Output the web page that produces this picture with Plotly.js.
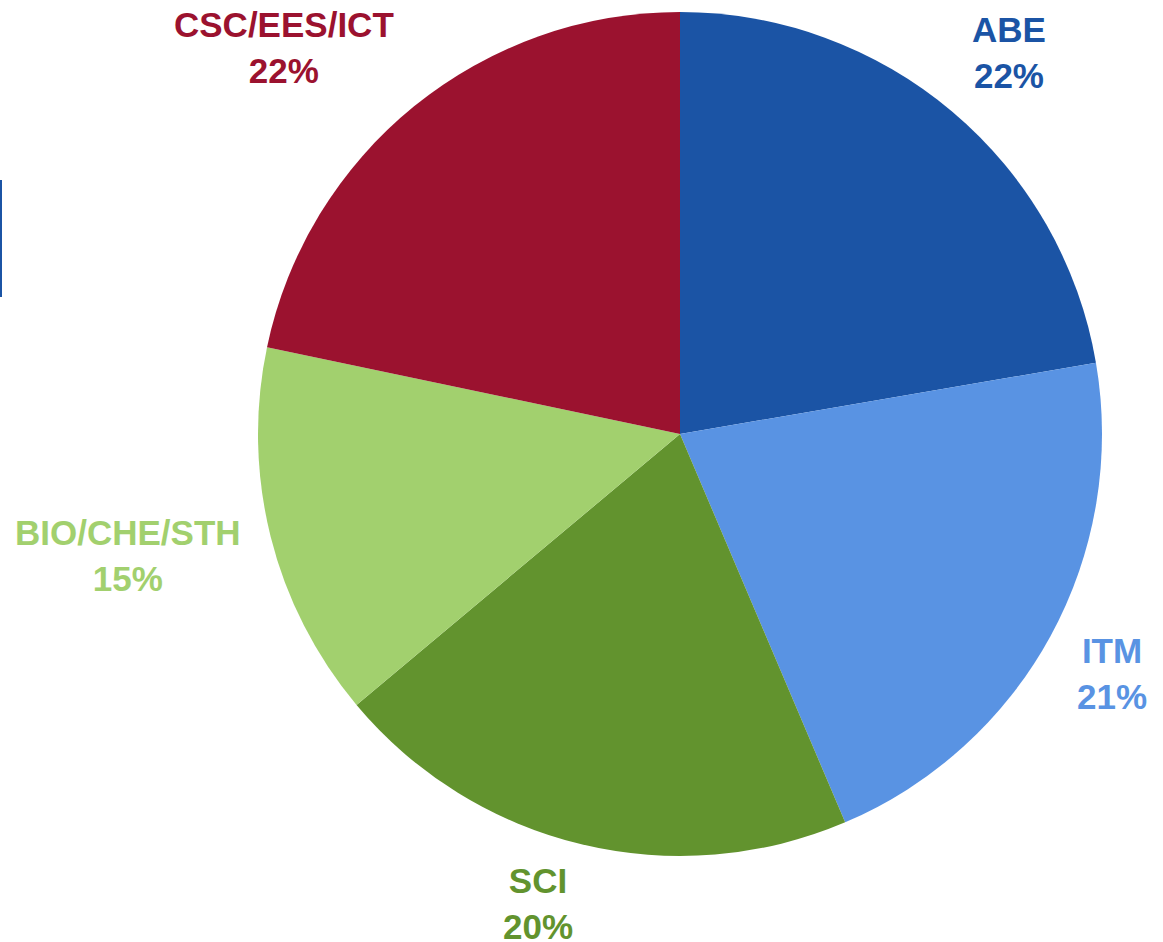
<!DOCTYPE html>
<html>
<head>
<meta charset="utf-8">
<script src="https://cdn.plot.ly/plotly-3.0.1.min.js"></script>
<style>html,body{margin:0;padding:0;background:#fff;}#chart{width:1163px;height:942px;}</style>
</head>
<body>
<div id="chart"></div>
<script>
const categories = ["ABE", "ITM", "SCI", "BIO/CHE/STH", "CSC/EES/ICT"];
const values = [22.3, 21.3, 20.3, 14.4, 21.7];
const percentLabels = ["22%", "21%", "20%", "15%", "22%"];
const colors = ["#1B54A5", "#5993E3", "#62932E", "#A2D06E", "#9B122F"];

const W = 1163, H = 942;
const cx = 680, cy = 434, r = 422;   // pie placement in pixels
const labelR = 450;                   // distance of label corner from centre

const trace = {
  type: "pie",
  labels: categories,
  values: values,
  sort: false,
  direction: "clockwise",
  rotation: 0,
  marker: { colors: colors, line: { color: "#ffffff", width: 0 } },
  textinfo: "none",
  domain: { x: [(cx - r) / W, (cx + r) / W], y: [(H - cy - r) / H, (H - cy + r) / H] },
  hoverinfo: "label+percent",
  showlegend: false
};

// outside labels positioned from each slice's mid angle
const total = values.reduce((a, b) => a + b, 0);
let cum = 0;
const annotations = categories.map((cat, i) => {
  const mid = (cum + values[i] / 2) / total * 2 * Math.PI;
  cum += values[i];
  const s = Math.sin(mid), c = Math.cos(mid);
  const px = cx + labelR * s, py = cy - labelR * c;
  const horiz = Math.abs(c) < 0.3;
  const yanchor = horiz ? "middle" : (c >= 0 ? "bottom" : "top");
  let yshift = 0;
  if (yanchor === "top") yshift = 10 + 12 * Math.abs(s);
  else if (yanchor === "middle") yshift = -12;
  else yshift = -7;
  return {
    xref: "paper", yref: "paper",
    x: px / W, y: 1 - py / H,
    text: "<b>" + cat + "<br>" + percentLabels[i] + "</b>",
    showarrow: false,
    xanchor: s >= 0 ? "left" : "right",
    yanchor: yanchor,
    yshift: yshift,
    align: "center",
    font: { family: "Liberation Sans, Arial, sans-serif", size: 35, color: colors[i] }
  };
});

const layout = {
  width: W,
  height: H,
  margin: { l: 0, r: 0, t: 0, b: 0 },
  paper_bgcolor: "#ffffff",
  showlegend: false,
  annotations: annotations,
  shapes: [
    { type: "rect", xref: "paper", yref: "paper", x0: 0, x1: 2 / W, y0: (H - 297) / H, y1: (H - 180) / H,
      fillcolor: "#1B54A5", line: { width: 0 } }
  ]
};

Plotly.newPlot("chart", [trace], layout, { displayModeBar: false });
</script>
</body>
</html>
